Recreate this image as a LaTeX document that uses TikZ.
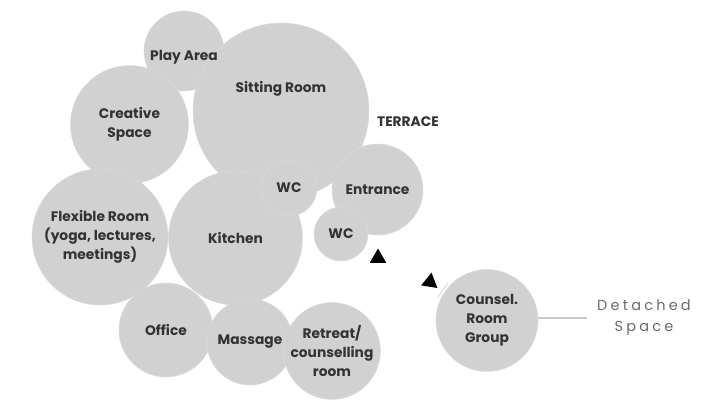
\documentclass[tikz,border=0pt]{standalone}
\usepackage{fontspec}
\setmainfont{Poppins}
\newfontfamily\detfont{Poppins}[LetterSpace=22]
\usetikzlibrary{shapes.geometric}
\definecolor{bub}{HTML}{D0D1D0}
\definecolor{txt}{HTML}{333333}
\definecolor{det}{HTML}{6A6A6A}
\begin{document}
\begin{tikzpicture}[x=1pt,y=-1pt,
  room/.style={circle, fill=bub, draw=white!22!bub, line width=0.5pt, inner sep=0pt,
    minimum size=#1, font=\bfseries\fontsize{13.8}{18.8}\selectfont, text=txt, align=center},
  lbl/.style={font=\bfseries\fontsize{13.8}{18.8}\selectfont, text=txt, align=center, inner sep=0pt},
  tri/.style={regular polygon, regular polygon sides=3, fill=black, inner sep=0pt, minimum size=19pt}
]
\useasboundingbox (0,0) rectangle (712,399);
% circles (back to front)
\node[room=80pt] (play) at (184,51) {};
\node[room=118pt] (creative) at (129.5,124.5) {Creative\\Space};
\node[room=176pt] (sitting) at (281,111) {};
\node[room=136pt] (flex) at (100,237) {Flexible Room\\(yoga, lectures,\\meetings)};
\node[room=134pt] (kitchen) at (235.5,238) {Kitchen};
\node[room=56pt] (wc1) at (289,188) {WC};
\node[room=91pt] (entrance) at (377.5,189.5) {Entrance};
\node[room=54pt] (wc2) at (341,234) {WC};
\node[room=94pt] (office) at (166,330) {Office};
\node[room=86pt] (massage) at (250,342) {Massage};
\node[room=90pt] (retreat) at (332,351) {Retreat/\\counselling\\room};
\node[room=102pt] (counsel) at (487,320.5) {Counsel.\\Room\\Group};
% labels placed off-centre
\node[lbl] (playT) at (184,57) {Play Area};
\node[lbl] (sittingT) at (281,89) {Sitting Room};
\node[lbl] (terrace) at (408,122) {TERRACE};
% entrance markers
\node[tri] (tri1) at (378,258) {};
\draw[black!22, line width=0.6pt] (438,297) -- (448,283);
\node[tri, rotate=-9] (tri2) at (430,282) {};
% detached space
\coordinate (detEnd) at (587,318);
\draw[black!22, line width=1.2pt] (counsel.east |- detEnd) -- (detEnd);
\node[text=det, align=center, anchor=west, inner sep=0pt,
  font=\detfont\fontsize{14.5}{21}\selectfont] (detT) at (597,318) {Detached\\Space};
\end{tikzpicture}
\end{document}
